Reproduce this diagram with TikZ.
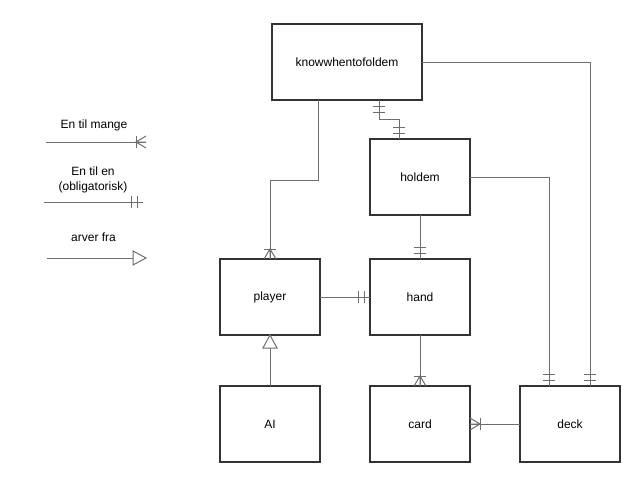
\documentclass[tikz,border=0pt]{standalone}
\usepackage{fontspec}
\setmainfont{Liberation Sans}
\definecolor{boxc}{HTML}{333333}
\definecolor{linec}{HTML}{6E6E6E}
\begin{document}
\begin{tikzpicture}[x=1pt,y=-1pt,
  font=\fontsize{12}{15}\selectfont,
  ent/.style={draw=boxc,line width=1.5pt,minimum width=100pt,minimum height=76pt,inner sep=0pt,outer sep=0pt,fill=white},
  conn/.style={draw=linec,line width=1pt},
  lbl/.style={inner sep=0pt,align=center},
  crow/.pic={\draw[conn] (10,-6)--(10,6); \draw[conn] (0,-6)--(10,0)--(0,6) (0,0)--(10,0);},
  mone/.pic={\draw[conn] (6,-6)--(6,6) (12,-6)--(12,6);},
  inh/.pic={\draw[conn,fill=white] (0,0)--(13,-7)--(13,7)--cycle;}
]
\useasboundingbox (0,0) rectangle (640,482);
\fill[white] (0,0) rectangle (640,482);

% entities
\node[ent,minimum width=150pt] (kw) at (347,62) {knowwhentofoldem};
\node[ent] (holdem) at (420,177) {holdem};
\node[ent] (player) at (270,297) {player};
\node[ent] (hand) at (420,297) {hand};
\node[ent] (ai) at (270,424) {AI};
\node[ent] (card) at (420,424) {card};
\node[ent] (deck) at (570,424) {deck};

% connectors
\draw[conn] ([xshift=-29pt]kw.south) -- ++(0,80) -| (player.north);
\draw[conn] ([xshift=32pt]kw.south) -- ++(0,19) -| ([xshift=-21pt]holdem.north);
\draw[conn] (holdem.south) -- (hand.north);
\draw[conn] (player.east) -- (hand.west);
\draw[conn] (hand.south) -- (card.north);
\draw[conn] (deck.west) -- (card.east);
\draw[conn] (holdem.east) -| ([xshift=-21pt]deck.north);
\draw[conn] (kw.east) -| ([xshift=20pt]deck.north);
\draw[conn] (ai.north) -- (player.south);

% end markers
\pic[rotate=90] at (player.north) {crow};
\pic[rotate=-90] at ([xshift=32pt]kw.south) {mone};
\pic[rotate=90] at ([xshift=-21pt]holdem.north) {mone};
\pic[rotate=90] at (hand.north) {mone};
\pic[rotate=180] at (hand.west) {mone};
\pic[rotate=90] at (card.north) {crow};
\pic at (card.east) {crow};
\pic[rotate=90] at ([xshift=-21pt]deck.north) {mone};
\pic[rotate=90] at ([xshift=20pt]deck.north) {mone};
\pic[rotate=-90] at (player.south) {inh};

% legend
\node[lbl] (l1) at (94,125) {En til mange};
\coordinate (l1a) at (46,142);
\coordinate (l1b) at (146,142);
\draw[conn] (l1a) -- (l1b);
\pic[rotate=180] at (l1b) {crow};

\node[lbl] (l2) at (93,179.5) {En til en\\(obligatorisk)};
\coordinate (l2a) at (44,202);
\coordinate (l2b) at (143,202);
\draw[conn] (l2a) -- (l2b);
\pic[rotate=180] at (l2b) {mone};

\node[lbl] (l3) at (93.5,237) {arver fra};
\coordinate (l3a) at (47,258);
\coordinate (l3b) at (146,258);
\draw[conn] (l3a) -- (l3b);
\pic[rotate=180] at (l3b) {inh};
\end{tikzpicture}
\end{document}
